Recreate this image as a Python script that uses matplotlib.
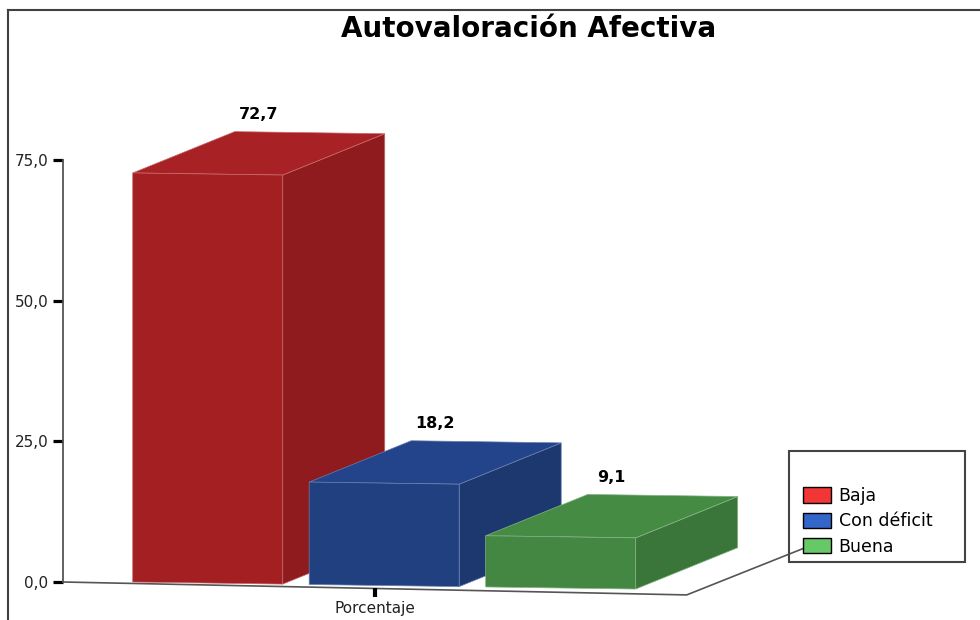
import matplotlib
matplotlib.use("Agg")
from matplotlib import pyplot as plt
from matplotlib.patches import Polygon, Patch, Rectangle
from matplotlib.lines import Line2D

# data
categories = ["Baja", "Con déficit", "Buena"]
values = [72.7, 18.2, 9.1]
yticks = [0, 25, 50, 75]
title = "Autovaloración Afectiva"
xlabel = "Porcentaje"

front_colors = ["#a41f22", "#21407f", "#438742"]
top_colors = ["#a82124", "#23448a", "#458b44"]
side_colors = ["#8f1b1e", "#1d376f", "#3a763a"]
edge_colors = ["#c86a6c", "#6a80b0", "#86b486"]
legend_colors = ["#f23535", "#3465c8", "#66c866"]

W, H = 980, 620
fig = plt.figure(figsize=(W / 100, H / 100), dpi=100)
ax = fig.add_axes([63 / W, 38 / H, (W - 63) / W, 422 / H])

x_left = -0.82
ax.set_xlim(x_left, 4.376)
ax.set_ylim(0, 75)

bar_w = 0.85      # front width (category units)
depth_x = 0.578   # depth offset, category units
depth_y = 7.6     # depth offset, value units
floor_tilt = 0.65  # perspective tilt of the floor edge
bar_tilt = 0.44    # perspective tilt of the bars


def floor_pt(x, y):
    return (x, y - floor_tilt * (x - x_left))


def bar_pt(x, y):
    x0 = -bar_w / 2
    return (x, y - bar_tilt * (x - x0))


for i, v in enumerate(values):
    xl, xr = i - bar_w / 2, i + bar_w / 2
    side = [bar_pt(xr, 0), bar_pt(xr + depth_x, depth_y), bar_pt(xr + depth_x, v + depth_y), bar_pt(xr, v)]
    top = [bar_pt(xl, v), bar_pt(xr, v), bar_pt(xr + depth_x, v + depth_y), bar_pt(xl + depth_x, v + depth_y)]
    front = [bar_pt(xl, 0), bar_pt(xr, 0), bar_pt(xr, v), bar_pt(xl, v)]
    for poly, col in ((side, side_colors[i]), (top, top_colors[i]), (front, front_colors[i])):
        ax.add_patch(Polygon(poly, closed=True, facecolor=col, edgecolor=edge_colors[i],
                             linewidth=0.5, clip_on=False, zorder=2 + i))
    lx, ly = bar_pt(i + depth_x / 2, v + depth_y)
    ax.annotate(("%.1f" % v).replace(".", ","), (lx, ly), xytext=(0, 7),
                textcoords="offset points", ha="center", va="bottom",
                fontsize=11.5, fontweight="bold", color="black", zorder=10,
                annotation_clip=False)

# floor line and leader to the legend
x_end = len(values) - 1 + bar_w / 2 + depth_x / 2
floor = [floor_pt(x_left, 0), floor_pt(x_end, 0), floor_pt(x_end + 1.14 * depth_x, 1.14 * depth_y)]
ax.plot([p[0] for p in floor], [p[1] for p in floor], color="#555555", lw=1.2,
        clip_on=False, zorder=1)

# category tick + label
x_mid = (x_left + x_end) / 2
tx, ty = floor_pt(x_mid, 0)
ax.plot([tx, tx], [ty, ty - 1.45], color="black", lw=3, solid_capstyle="butt",
        clip_on=False, zorder=1)
ax.annotate(xlabel, (tx, ty - 1.45), xytext=(0, -3), textcoords="offset points",
            ha="center", va="top", fontsize=11, color="#222222", annotation_clip=False)

# axes styling
for s in ["top", "right", "bottom"]:
    ax.spines[s].set_visible(False)
ax.spines["left"].set_color("#555555")
ax.spines["left"].set_linewidth(1.3)
ax.spines["left"].set_bounds(0, 75)
ax.set_yticks(yticks)
ax.set_yticklabels([("%.1f" % t).replace(".", ",") for t in yticks])
ax.tick_params(axis="y", direction="out", length=7.5, width=2.3, color="black",
               pad=3, labelsize=11, labelcolor="#222222")
ax.set_xticks([])
ax.patch.set_alpha(0)

fig.text(529 / W, 1 - 29 / H, title, ha="center", va="center", fontsize=20,
         fontweight="bold", color="black")

# legend
fig.patches.append(Rectangle((789 / W, (H - 562) / H), 176 / W, 111 / H,
                             transform=fig.transFigure, fill=False,
                             edgecolor="#444444", linewidth=1.5))
handles = [Patch(facecolor=c, edgecolor="black", linewidth=1.0) for c in legend_colors]
fig.legend(handles, categories, loc="upper left", bbox_to_anchor=(803 / W, (H - 487) / H),
           frameon=False, fontsize=12.5, borderpad=0, borderaxespad=0,
           handlelength=1.6, handleheight=1.0, handletextpad=0.45, labelspacing=0.42)

# outer frame (top and left)
fig.add_artist(Line2D([8 / W, 1], [1 - 10 / H, 1 - 10 / H], transform=fig.transFigure,
                      color="#404040", lw=1.5))
fig.add_artist(Line2D([8 / W, 8 / W], [0, 1 - 10 / H], transform=fig.transFigure,
                      color="#404040", lw=1.5))

fig.savefig("out.png", dpi=100)
